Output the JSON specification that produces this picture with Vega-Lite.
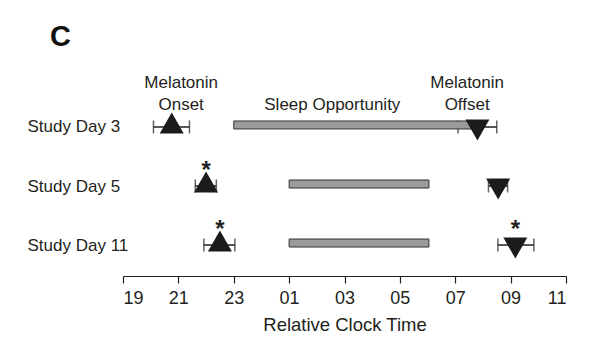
{
  "$schema": "https://vega.github.io/schema/vega-lite/v6.json",
  "width": 443,
  "height": 180,
  "autosize": "none",
  "padding": {"left": 123, "top": 96, "right": 34, "bottom": 75},
  "title": {"text": "C", "anchor": "start", "frame": "group", "fontSize": 29, "fontWeight": "bold", "font": "Liberation Sans", "color": "#111111", "dx": -73, "dy": 22, "baseline": "alphabetic", "offset": 21},
  "config": {"view": {"stroke": null}, "font": "Liberation Sans"},
  "datasets": {
    "pts": [
      {"day": "Study Day 3", "event": "onset", "t": 20.76, "lo": 20.1, "hi": 21.4, "sig": false},
      {"day": "Study Day 3", "event": "offset", "t": 31.8, "lo": 31.1, "hi": 32.5, "sig": false},
      {"day": "Study Day 5", "event": "onset", "t": 22.0, "lo": 21.61, "hi": 22.37, "sig": true},
      {"day": "Study Day 5", "event": "offset", "t": 32.55, "lo": 32.2, "hi": 32.89, "sig": false},
      {"day": "Study Day 11", "event": "onset", "t": 22.5, "lo": 21.92, "hi": 23.04, "sig": true},
      {"day": "Study Day 11", "event": "offset", "t": 33.17, "lo": 32.54, "hi": 33.84, "sig": true}
    ],
    "sleep": [
      {"day": "Study Day 3", "start": 23.0, "end": 32.0},
      {"day": "Study Day 5", "start": 25.0, "end": 30.05},
      {"day": "Study Day 11", "start": 25.0, "end": 30.05}
    ],
    "notesTop": [
      {"day": "Study Day 3", "x": 21.1, "label": "Melatonin"},
      {"day": "Study Day 3", "x": 31.43, "label": "Melatonin"}
    ],
    "notesBottom": [
      {"day": "Study Day 3", "x": 21.1, "label": "Onset"},
      {"day": "Study Day 3", "x": 31.43, "label": "Offset"},
      {"day": "Study Day 3", "x": 26.56, "label": "Sleep Opportunity"}
    ]
  },
  "encoding": {
    "y": {
      "field": "day", "type": "nominal",
      "scale": {"type": "point", "domain": ["Study Day 3", "Study Day 5", "Study Day 11"], "padding": 0.525},
      "axis": {"domain": false, "ticks": false, "grid": false, "labelAlign": "left", "labelBaseline": "middle", "labelPadding": 96, "labelFontSize": 17, "labelColor": "#231f20", "title": null}
    }
  },
  "layer": [
    {
      "data": {"name": "pts"},
      "mark": {"type": "rule", "color": "#231f20", "strokeWidth": 1.5},
      "encoding": {
        "x": {
          "field": "lo", "type": "quantitative",
          "scale": {"domain": [19, 35], "nice": false, "zero": false},
          "axis": {
            "values": [19, 21, 23, 25, 27, 29, 31, 33, 35],
            "labelExpr": "(datum.value % 24 < 10 ? '0' : '') + (datum.value % 24)",
            "grid": false, "domainColor": "#231f20", "domainWidth": 1.2, "tickColor": "#231f20", "tickWidth": 1.2, "tickSize": 7,
            "labelFontSize": 18, "labelColor": "#231f20", "labelPadding": 6,
            "title": "Relative Clock Time", "titleFontSize": 18.5, "titleFontWeight": "normal", "titleColor": "#231f20", "titlePadding": 8
          }
        },
        "x2": {"field": "hi"}
      }
    },
    {
      "data": {"name": "pts"},
      "transform": [{"fold": ["lo", "hi"], "as": ["side", "val"]}],
      "mark": {"type": "tick", "orient": "vertical", "color": "#231f20", "thickness": 1.5, "size": 13},
      "encoding": {"x": {"field": "val", "type": "quantitative"}}
    },
    {
      "data": {"name": "sleep"},
      "mark": {"type": "bar", "size": 8, "fill": "#9b9b9b", "stroke": "#333333", "strokeWidth": 1, "yOffset": -2},
      "encoding": {
        "x": {"field": "start", "type": "quantitative"},
        "x2": {"field": "end"}
      }
    },
    {
      "data": {"name": "pts"},
      "transform": [{"filter": "datum.event == 'onset'"}],
      "mark": {"type": "point", "shape": "triangle-up", "filled": true, "size": 576, "opacity": 1, "color": "#1c1a1b", "yOffset": -4},
      "encoding": {"x": {"field": "t", "type": "quantitative"}}
    },
    {
      "data": {"name": "pts"},
      "transform": [{"filter": "datum.event == 'offset'"}],
      "mark": {"type": "point", "shape": "triangle-down", "filled": true, "size": 576, "opacity": 1, "color": "#1c1a1b", "yOffset": 3},
      "encoding": {"x": {"field": "t", "type": "quantitative"}}
    },
    {
      "data": {"name": "pts"},
      "transform": [{"filter": "datum.sig"}],
      "mark": {"type": "text", "text": "*", "fontSize": 24, "fontWeight": "bold", "dy": -15, "baseline": "middle", "color": "#231f20"},
      "encoding": {"x": {"field": "t", "type": "quantitative"}}
    },
    {
      "data": {"name": "notesTop"},
      "mark": {"type": "text", "fontSize": 17, "baseline": "middle", "dy": -44, "color": "#231f20"},
      "encoding": {"x": {"field": "x", "type": "quantitative"}, "text": {"field": "label"}}
    },
    {
      "data": {"name": "notesBottom"},
      "mark": {"type": "text", "fontSize": 17, "baseline": "middle", "dy": -22, "color": "#231f20"},
      "encoding": {"x": {"field": "x", "type": "quantitative"}, "text": {"field": "label"}}
    }
  ]
}
